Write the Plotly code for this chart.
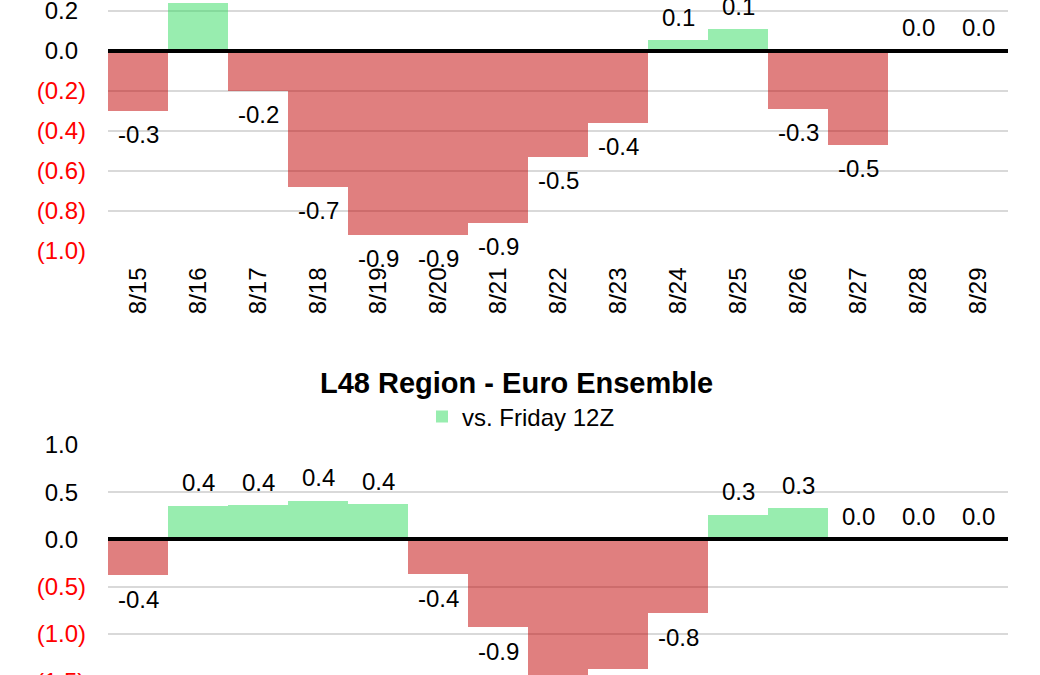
import plotly.graph_objects as go

dates = ["8/15", "8/16", "8/17", "8/18", "8/19", "8/20", "8/21", "8/22",
         "8/23", "8/24", "8/25", "8/26", "8/27", "8/28", "8/29"]

# Top chart (upper panel, title cropped off)
top_values = [-0.30, 0.24, -0.20, -0.68, -0.92, -0.92, -0.86, -0.53,
              -0.36, 0.052, 0.108, -0.29, -0.47, 0.0, 0.0]

# Bottom chart: L48 Region - Euro Ensemble, vs. Friday 12Z
bottom_values = [-0.38, 0.355, 0.36, 0.41, 0.37, -0.37, -0.93, -1.60,
                 -1.37, -0.78, 0.26, 0.33, 0.0, 0.0, 0.0]

top_ticks = [0.2, 0.0, -0.2, -0.4, -0.6, -0.8, -1.0]
bottom_ticks = [1.0, 0.5, 0.0, -0.5, -1.0]
bottom_extra_tick = -1.5

title_text = "L48 Region - Euro Ensemble"
series_name = "vs. Friday 12Z"

GREEN = "rgba(50,220,95,0.5)"
RED = "rgba(193,0,0,0.5)"
FONT = "Liberation Sans, Arial, sans-serif"
FS = 24

H = 675.0
TOP_RANGE = [-1.0, 0.2535]
BOT_RANGE = [-1.436, 1.0]
top_dom = [(H - 250.7) / H, 1.0]
bot_dom = [0.0, (H - 445.0) / H]
Y_STANDOFF = 21


def tick_label(v):
    if v < 0:
        return '<span style="color:#FF0000">(%.1f)</span>' % abs(v)
    return '%.1f<span style="color:rgba(255,255,255,0)">)</span>' % v


def label(v):
    s = "%.1f" % v
    return "0.0" if s == "-0.0" else s


fig = go.Figure()

panels = [("x", "y", top_values, False), ("x2", "y2", bottom_values, True)]
for xa, ya, vals, legend in panels:
    pos = [v if v >= 0 else None for v in vals]
    neg = [v if v < 0 else None for v in vals]
    fig.add_trace(go.Bar(x=dates, y=pos, marker=dict(color=GREEN, line=dict(width=0)),
                         name=series_name, showlegend=legend, xaxis=xa, yaxis=ya,
                         hoverinfo="skip"))
    fig.add_trace(go.Bar(x=dates, y=neg, marker=dict(color=RED, line=dict(width=0)),
                         name=series_name, showlegend=False, xaxis=xa, yaxis=ya,
                         hoverinfo="skip"))
    for d, v in zip(dates, vals):
        fig.add_annotation(x=d, y=v, xref=xa, yref=ya, text=label(v),
                           showarrow=False, yanchor="middle",
                           yshift=-24 if v < 0 else 23,
                           font=dict(family=FONT, size=FS, color="black"))

axis_common = dict(showgrid=True, gridcolor="#D9D9D9", gridwidth=1.5,
                   zeroline=True, zerolinecolor="black", zerolinewidth=4,
                   showline=False, ticks="", tickfont=dict(family=FONT, size=FS, color="black"),
                   ticklabelstandoff=Y_STANDOFF, fixedrange=True, automargin=False,
                   ticklabeloverflow="allow")

fig.update_layout(
    width=1040, height=675,
    margin=dict(l=108, r=32, t=0, b=0, autoexpand=False),
    paper_bgcolor="white", plot_bgcolor="white",
    barmode="overlay", bargap=0,
    font=dict(family=FONT, size=FS, color="black"),
    xaxis=dict(domain=[0, 1], anchor="y", type="category", tickangle=-90,
               showgrid=False, ticks="", showline=False, automargin=False,
               tickfont=dict(family=FONT, size=FS, color="black"),
               ticklabelstandoff=11, ticklabeloverflow="allow", fixedrange=True),
    xaxis2=dict(domain=[0, 1], anchor="y2", type="category", showgrid=False,
                showticklabels=False, ticks="", showline=False, automargin=False,
                fixedrange=True),
    yaxis=dict(domain=top_dom, range=TOP_RANGE, tickvals=top_ticks,
               ticktext=[tick_label(v) for v in top_ticks], **axis_common),
    yaxis2=dict(domain=bot_dom, range=BOT_RANGE, tickvals=bottom_ticks,
                ticktext=[tick_label(v) for v in bottom_ticks], **axis_common),
    legend=dict(orientation="h", x=(422 - 108) / 900.0, xanchor="left",
                y=(H - 417.0) / H, yanchor="middle", yref="paper",
                font=dict(family=FONT, size=FS, color="black"),
                bgcolor="rgba(0,0,0,0)", itemwidth=30),
    showlegend=True,
)

try:
    fig.update_yaxes(zerolinelayer="above traces")
except Exception:
    pass

# Title of the bottom panel
fig.add_annotation(text="<b>%s</b>" % title_text, xref="paper", yref="paper",
                   x=(516.5 - 108) / 900.0, y=(H - 383.0) / H, showarrow=False,
                   xanchor="center", yanchor="middle",
                   font=dict(family=FONT, size=29, color="black"))

# Partially visible tick label just below the visible range of the bottom panel
frac = (bottom_extra_tick - BOT_RANGE[0]) / (BOT_RANGE[1] - BOT_RANGE[0])
extra_paper_y = bot_dom[0] + frac * (bot_dom[1] - bot_dom[0])
fig.add_annotation(text=tick_label(bottom_extra_tick), xref="paper", yref="paper",
                   x=0, y=extra_paper_y, xanchor="right", yanchor="middle",
                   xshift=-Y_STANDOFF, showarrow=False,
                   font=dict(family=FONT, size=FS, color="black"))

fig.write_html("out.html", config={"displayModeBar": False},
               post_script="document.body.style.margin='0px';document.body.style.overflow='hidden';")
